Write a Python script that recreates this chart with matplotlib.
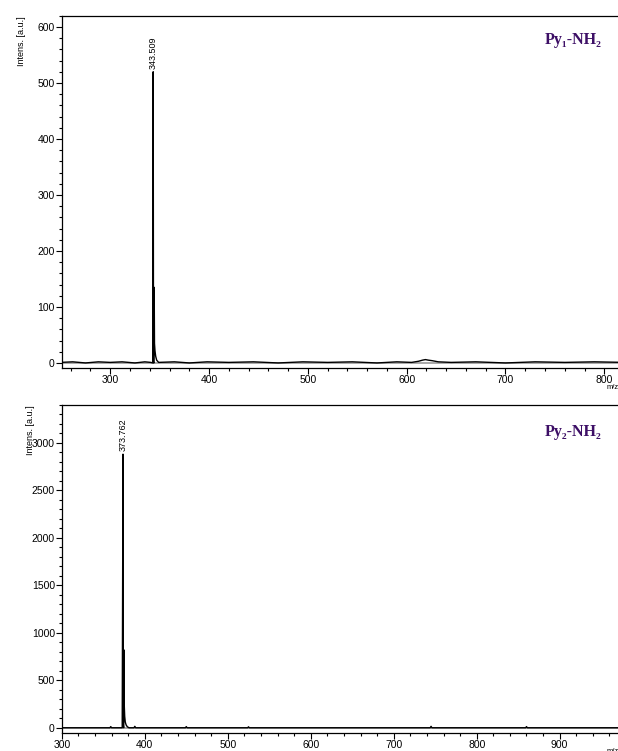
import matplotlib.pyplot as plt
from matplotlib.ticker import MultipleLocator

plt.rcParams['font.family'] = ['Liberation Sans', 'DejaVu Sans']

# --- Py1-NH2 spectrum (profile points) ---
mz1 = [250, 262, 275, 288, 300, 312, 325, 335, 341, 343.2, 343.5, 343.8, 344.2, 344.5, 344.8, 345.3, 346.0,
       347.0, 349.0, 365, 380, 398, 420, 445, 470, 495, 520, 545, 570, 590, 605, 612, 616, 619, 622, 626,
       632, 645, 670, 700, 730, 760, 790, 820]
int1 = [1, 2, 0, 2, 1, 2, 0, 2, 1, 0, 520, 2, 0, 135, 35, 22, 12,
        5, 1, 2, 0, 2, 1, 2, 0, 2, 1, 2, 0, 2, 1, 3, 5, 6, 5, 4,
        2, 1, 2, 0, 2, 1, 2, 1]
peak1_mz = 343.509
peak1_int = 520
label1 = 'Py₁-NH₂'

# --- Py2-NH2 spectrum (profile points) ---
mz2 = [300, 358, 359, 360, 372.8, 373.762, 374.2, 374.6, 374.8, 375.3, 375.8, 376.5, 377.5, 379, 381,
       387, 388, 389, 449, 450, 451, 524, 525, 526, 744, 745, 746, 859, 860, 861, 970]
int2 = [0, 0, 12, 0, 0, 2880, 20, 0, 820, 230, 120, 60, 30, 10, 0,
        0, 15, 0, 0, 12, 0, 0, 10, 0, 0, 15, 0, 0, 12, 0, 0]
peak2_mz = 373.762
peak2_int = 2880
label2 = 'Py₂-NH₂'

fig = plt.figure(figsize=(6.18, 7.51), dpi=100)

ax1 = fig.add_axes([0.100, 0.510, 0.905, 0.469])
ax2 = fig.add_axes([0.100, 0.024, 0.905, 0.437])

panels = [
    (ax1, mz1, int1, peak1_mz, peak1_int, label1, 0.93, (251, 817), (-9, 620), 100, 20, 100, 20),
    (ax2, mz2, int2, peak2_mz, peak2_int, label2, 0.918, (300, 974), (-55, 3400), 100, 20, 500, 100),
]

for ax, mz, inten, pmz, pint, lab, ly, xl, yl, xmaj, xmin, ymaj, ymin in panels:
    ax.axhline(0, color='#999999', lw=1.2, zorder=1)
    ax.plot(mz, inten, color='black', lw=1.0, zorder=2)
    ax.set_xlim(*xl)
    ax.set_ylim(*yl)
    ax.xaxis.set_major_locator(MultipleLocator(xmaj))
    ax.xaxis.set_minor_locator(MultipleLocator(xmin))
    ax.yaxis.set_major_locator(MultipleLocator(ymaj))
    ax.yaxis.set_minor_locator(MultipleLocator(ymin))
    ax.tick_params(which='both', labelsize=7.5, direction='out', width=0.8, pad=1)
    ax.tick_params(which='major', length=4)
    ax.tick_params(which='minor', length=2.5)
    ax.spines['right'].set_visible(False)
    for s in ('top', 'left', 'bottom'):
        ax.spines[s].set_linewidth(0.9)
    ax.annotate(f'{pmz:.3f}', xy=(pmz, pint), xytext=(0, 2), textcoords='offset points',
                rotation=90, ha='center', va='bottom', fontsize=6.5)
    ax.text(0.965, ly, lab, transform=ax.transAxes, ha='right', va='center',
            fontsize=11.5, fontweight='bold', color='#3d0f66', family=['Liberation Serif', 'DejaVu Serif'])
    ax.text(0.985, -0.045, 'm/z', transform=ax.transAxes, ha='center', va='top', fontsize=5.5)

ax1.set_ylabel('Intens. [a.u.]', fontsize=6.5, loc='top', labelpad=8)
ax2.set_ylabel('Intens. [a.u.]', fontsize=6.5, loc='top', labelpad=-2)

fig.savefig('out.png', dpi=100)
